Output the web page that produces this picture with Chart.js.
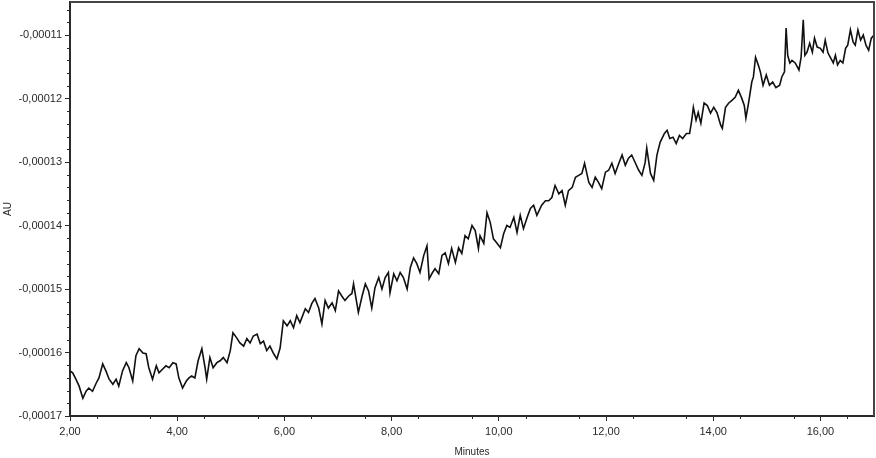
<!DOCTYPE html>
<html>
<head>
<meta charset="utf-8">
<title>AU vs Minutes</title>
<script src="https://cdn.jsdelivr.net/npm/chart.js@4.4.1/dist/chart.umd.min.js"></script>
<style>
  html, body { margin: 0; padding: 0; background: #fff; }
  canvas { display: block; }
</style>
</head>
<body>
<canvas id="myChart" width="876" height="458"></canvas>
<script>
// retention time, minutes
const minutes = [
  2.00, 2.05, 2.11, 2.17, 2.24, 2.30, 2.35, 2.42, 2.49, 2.54, 2.61, 2.67, 2.73, 2.80, 2.86, 2.91, 2.98,
  3.05, 3.10, 3.17, 3.23, 3.29, 3.36, 3.42, 3.47, 3.54, 3.61, 3.66, 3.73, 3.79, 3.85, 3.92, 3.98,
  4.03, 4.10, 4.17, 4.22, 4.27, 4.33, 4.39, 4.46, 4.52, 4.55, 4.61, 4.67, 4.74, 4.80, 4.86, 4.93, 4.99,
  5.04, 5.11, 5.17, 5.24, 5.30, 5.36, 5.42, 5.49, 5.55, 5.61, 5.67, 5.73, 5.80, 5.86, 5.92, 5.98,
  6.05, 6.11, 6.17, 6.23, 6.29, 6.39, 6.45, 6.51, 6.57, 6.64, 6.70, 6.76, 6.82, 6.89, 6.95,
  7.01, 7.07, 7.13, 7.20, 7.26, 7.29, 7.35, 7.38, 7.45, 7.51, 7.57, 7.63, 7.69, 7.76, 7.82, 7.88, 7.94, 7.97,
  8.04, 8.10, 8.16, 8.22, 8.29, 8.35, 8.41, 8.47, 8.53, 8.60, 8.66, 8.70, 8.75, 8.81, 8.88, 8.94,
  9.00, 9.06, 9.12, 9.19, 9.25, 9.31, 9.37, 9.43, 9.50, 9.56, 9.62, 9.65, 9.72, 9.78, 9.84, 9.90, 9.96,
  10.03, 10.09, 10.15, 10.21, 10.28, 10.34, 10.40, 10.46, 10.53, 10.59, 10.65, 10.71, 10.80, 10.87, 10.93, 10.99,
  11.05, 11.12, 11.18, 11.24, 11.30, 11.37, 11.43, 11.49, 11.55, 11.60, 11.68, 11.74, 11.80, 11.86, 11.92, 11.99,
  12.05, 12.11, 12.17, 12.24, 12.30, 12.36, 12.42, 12.48, 12.55, 12.61, 12.67, 12.73, 12.76, 12.83, 12.89, 12.95,
  13.01, 13.09, 13.14, 13.19, 13.25, 13.31, 13.37, 13.43, 13.50, 13.56, 13.60, 13.63, 13.68, 13.72, 13.77, 13.83, 13.89, 13.95,
  14.01, 14.07, 14.14, 14.17, 14.23, 14.29, 14.35, 14.41, 14.47, 14.53, 14.58, 14.61, 14.66, 14.72, 14.75, 14.79, 14.84, 14.88, 14.93, 14.99,
  15.05, 15.11, 15.17, 15.24, 15.28, 15.33, 15.36, 15.39, 15.43, 15.47, 15.53, 15.60, 15.64, 15.68, 15.71, 15.75, 15.80, 15.85, 15.89, 15.94,
  16.00, 16.05, 16.09, 16.14, 16.19, 16.24, 16.28, 16.32, 16.37, 16.42, 16.47, 16.51, 16.56, 16.61, 16.65, 16.70, 16.75, 16.80, 16.85, 16.90, 16.95,
  17.00
];

// absorbance, AU
const absorbance = [
  -1.629e-4, -1.632e-4, -1.642e-4, -1.653e-4, -1.672e-4, -1.661e-4, -1.656e-4, -1.661e-4, -1.648e-4, -1.640e-4, -1.618e-4, -1.629e-4, -1.642e-4, -1.650e-4, -1.642e-4, -1.653e-4, -1.629e-4,
  -1.616e-4, -1.624e-4, -1.645e-4, -1.605e-4, -1.594e-4, -1.601e-4, -1.602e-4, -1.624e-4, -1.642e-4, -1.621e-4, -1.632e-4, -1.626e-4, -1.621e-4, -1.624e-4, -1.616e-4, -1.618e-4,
  -1.640e-4, -1.656e-4, -1.645e-4, -1.640e-4, -1.637e-4, -1.640e-4, -1.613e-4, -1.594e-4, -1.624e-4, -1.642e-4, -1.608e-4, -1.624e-4, -1.616e-4, -1.613e-4, -1.608e-4, -1.616e-4, -1.597e-4,
  -1.569e-4, -1.577e-4, -1.585e-4, -1.590e-4, -1.578e-4, -1.585e-4, -1.574e-4, -1.571e-4, -1.586e-4, -1.582e-4, -1.597e-4, -1.590e-4, -1.602e-4, -1.610e-4, -1.593e-4, -1.550e-4,
  -1.558e-4, -1.550e-4, -1.561e-4, -1.542e-4, -1.553e-4, -1.531e-4, -1.537e-4, -1.523e-4, -1.515e-4, -1.530e-4, -1.555e-4, -1.518e-4, -1.530e-4, -1.522e-4, -1.534e-4,
  -1.503e-4, -1.511e-4, -1.518e-4, -1.511e-4, -1.507e-4, -1.492e-4, -1.522e-4, -1.537e-4, -1.511e-4, -1.492e-4, -1.503e-4, -1.530e-4, -1.498e-4, -1.482e-4, -1.500e-4, -1.482e-4, -1.474e-4, -1.506e-4,
  -1.476e-4, -1.487e-4, -1.474e-4, -1.482e-4, -1.500e-4, -1.466e-4, -1.451e-4, -1.460e-4, -1.474e-4, -1.447e-4, -1.432e-4, -1.484e-4, -1.476e-4, -1.468e-4, -1.476e-4, -1.447e-4,
  -1.443e-4, -1.460e-4, -1.436e-4, -1.458e-4, -1.435e-4, -1.444e-4, -1.416e-4, -1.421e-4, -1.400e-4, -1.408e-4, -1.436e-4, -1.416e-4, -1.428e-4, -1.380e-4, -1.395e-4, -1.421e-4, -1.427e-4,
  -1.435e-4, -1.413e-4, -1.400e-4, -1.403e-4, -1.387e-4, -1.411e-4, -1.384e-4, -1.405e-4, -1.387e-4, -1.373e-4, -1.368e-4, -1.384e-4, -1.368e-4, -1.361e-4, -1.361e-4, -1.356e-4,
  -1.337e-4, -1.350e-4, -1.345e-4, -1.368e-4, -1.345e-4, -1.340e-4, -1.324e-4, -1.321e-4, -1.318e-4, -1.302e-4, -1.332e-4, -1.340e-4, -1.324e-4, -1.332e-4, -1.342e-4, -1.316e-4,
  -1.313e-4, -1.302e-4, -1.318e-4, -1.302e-4, -1.289e-4, -1.305e-4, -1.294e-4, -1.289e-4, -1.302e-4, -1.313e-4, -1.321e-4, -1.301e-4, -1.278e-4, -1.318e-4, -1.329e-4, -1.289e-4,
  -1.269e-4, -1.255e-4, -1.250e-4, -1.263e-4, -1.261e-4, -1.271e-4, -1.258e-4, -1.263e-4, -1.255e-4, -1.255e-4, -1.234e-4, -1.214e-4, -1.234e-4, -1.222e-4, -1.239e-4, -1.207e-4, -1.211e-4, -1.223e-4,
  -1.214e-4, -1.222e-4, -1.242e-4, -1.247e-4, -1.214e-4, -1.207e-4, -1.203e-4, -1.198e-4, -1.187e-4, -1.199e-4, -1.211e-4, -1.231e-4, -1.207e-4, -1.174e-4, -1.166e-4, -1.135e-4, -1.147e-4, -1.158e-4, -1.179e-4, -1.163e-4,
  -1.179e-4, -1.174e-4, -1.183e-4, -1.179e-4, -1.166e-4, -1.158e-4, -1.089e-4, -1.132e-4, -1.144e-4, -1.140e-4, -1.144e-4, -1.155e-4, -1.135e-4, -1.076e-4, -1.132e-4, -1.127e-4, -1.113e-4, -1.127e-4, -1.105e-4, -1.119e-4,
  -1.121e-4, -1.127e-4, -1.108e-4, -1.128e-4, -1.136e-4, -1.144e-4, -1.132e-4, -1.147e-4, -1.140e-4, -1.144e-4, -1.121e-4, -1.116e-4, -1.092e-4, -1.111e-4, -1.116e-4, -1.092e-4, -1.108e-4, -1.100e-4, -1.116e-4, -1.124e-4, -1.105e-4,
  -1.100e-4
];

// tick labels
const xTicks = [2, 4, 6, 8, 10, 12, 14, 16];
const yTicks = [-0.00017, -0.00016, -0.00015, -0.00014, -0.00013, -0.00012, -0.00011];

const fontFamily = "'Liberation Sans', Arial, sans-serif";
const inkColor = '#2a2a2a';

// draws the frame and the short minor ticks
const frameTicks = {
  id: 'frameTicks',
  afterDraw(chart) {
    const ctx = chart.ctx;
    const a = chart.chartArea;
    const xs = chart.scales.x;
    const ys = chart.scales.y;
    ctx.save();
    ctx.strokeStyle = '#444';
    ctx.lineWidth = 2;
    ctx.beginPath();
    ctx.moveTo(a.left, a.top);
    ctx.lineTo(a.right, a.top);
    ctx.lineTo(a.right, a.bottom);
    ctx.stroke();

    ctx.strokeStyle = inkColor;
    ctx.lineWidth = 1;
    ctx.beginPath();
    for (let v = 2.5; v < 17; v += 1) {
      const px = Math.round(xs.getPixelForValue(v)) + 0.5;
      ctx.moveTo(px, a.bottom);
      ctx.lineTo(px, a.bottom + 3);
    }
    for (let k = 0; k < 34; k++) {
      if (k % 5 === 0) continue;
      const v = -0.00017 + k * 0.000002;
      const py = Math.round(ys.getPixelForValue(v)) + 0.5;
      if (py < a.top) break;
      ctx.moveTo(a.left, py);
      ctx.lineTo(a.left - 3, py);
    }
    ctx.stroke();
    ctx.restore();
  }
};

let ctx = document.getElementById('myChart').getContext('2d');

let myChart = new Chart(ctx, {
  type: 'line',
  data: {
    datasets: [{
      label: 'AU',
      data: minutes.map((m, i) => ({ x: m, y: absorbance[i] })),
      borderColor: '#111',
      borderWidth: 1.6,
      pointRadius: 0,
      tension: 0,
      fill: false
    }]
  },
  options: {
    responsive: false,
    animation: false,
    devicePixelRatio: 1,
    layout: { padding: { top: 2, right: 2, left: 0, bottom: 0 } },
    plugins: {
      legend: { display: false },
      tooltip: { enabled: false }
    },
    scales: {
      x: {
        type: 'linear',
        min: 2,
        max: 17,
        afterBuildTicks: s => { s.ticks = xTicks.map(v => ({ value: v })); },
        afterFit: s => { s.height = 42; s.paddingRight = 0; s.paddingLeft = 0; },
        border: { color: inkColor, width: 2 },
        grid: { drawOnChartArea: false, tickLength: 5, tickColor: inkColor },
        ticks: {
          color: inkColor,
          font: { family: fontFamily, size: 11 },
          padding: 4,
          maxRotation: 0,
          callback: v => v.toFixed(2).replace('.', ',')
        },
        title: {
          display: true,
          text: 'Minutes',
          color: inkColor,
          font: { family: fontFamily, size: 10 },
          padding: { top: 0, bottom: 0 }
        }
      },
      y: {
        type: 'linear',
        min: -0.00017,
        max: -0.0001048,
        afterBuildTicks: s => { s.ticks = yTicks.map(v => ({ value: v })); },
        afterFit: s => { s.width = 70; s.paddingTop = 0; s.paddingBottom = 0; },
        border: { color: inkColor, width: 2 },
        grid: { drawOnChartArea: false, tickLength: 5, tickColor: inkColor },
        ticks: {
          color: inkColor,
          font: { family: fontFamily, size: 11 },
          padding: 3,
          callback: v => v.toFixed(5).replace('.', ',')
        },
        title: {
          display: true,
          text: 'AU',
          color: inkColor,
          font: { family: fontFamily, size: 10 },
          padding: { top: 2, bottom: 0 }
        }
      }
    }
  },
  plugins: [frameTicks]
});
</script>
</body>
</html>
